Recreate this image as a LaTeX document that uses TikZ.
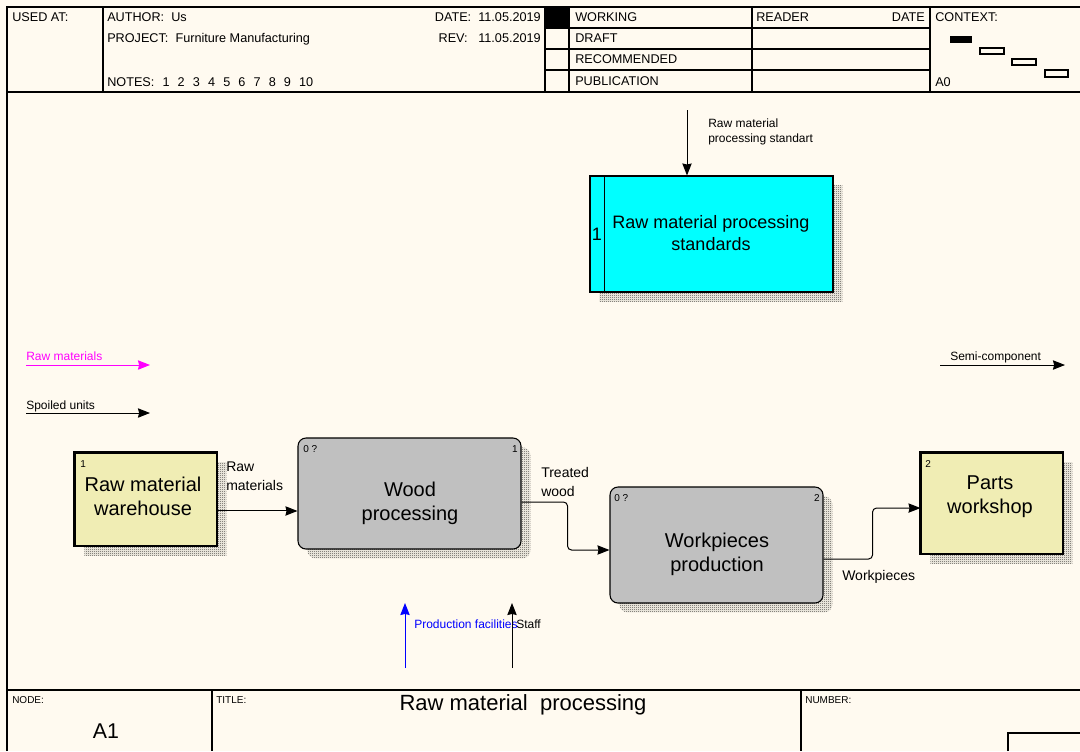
\documentclass[tikz,border=0pt]{standalone}
\usepackage{fontspec}
\setmainfont{Liberation Sans}
\usetikzlibrary{arrows.meta,shadows,calc,patterns}
\definecolor{bgc}{RGB}{255,250,240}
\definecolor{cyanbox}{RGB}{0,255,255}
\definecolor{khaki}{RGB}{240,237,180}
\definecolor{graybox}{RGB}{192,192,192}
\definecolor{shadowc}{RGB}{70,68,64}
\definecolor{magline}{RGB}{255,0,255}
\definecolor{blueline}{RGB}{0,0,255}
\pgfdeclarepatternformonly{checker}{\pgfqpoint{0pt}{0pt}}{\pgfqpoint{1.5pt}{1.5pt}}{\pgfqpoint{1.5pt}{1.5pt}}{%
  \pgfpathrectangle{\pgfqpoint{0pt}{0pt}}{\pgfqpoint{0.75pt}{0.75pt}}%
  \pgfpathrectangle{\pgfqpoint{0.75pt}{0.75pt}}{\pgfqpoint{0.75pt}{0.75pt}}%
  \pgfusepath{fill}}
\newcommand{\fsz}[2]{\fontsize{#1}{#2}\selectfont}
\newcommand{\gap}{\hspace{6.1pt}}
\begin{document}
\begin{tikzpicture}[x=0.75pt,y=-0.75pt,
  frame/.style={line width=0.9pt,draw=black},
  hdr/.style={font=\fsz{9.5}{11},inner sep=0pt,anchor=base west},
  lbl/.style={font=\fsz{9}{11.25},inner sep=0pt},
  mlbl/.style={font=\fsz{10.5}{14},inner sep=0pt},
  tiny/.style={font=\fsz{7.5}{9},inner sep=0pt},
  boxtxt/.style={font=\fsz{15}{18},align=center,inner sep=0pt},
  shd/.style={drop shadow={shadow xshift=7pt,shadow yshift=-7pt,pattern=checker,pattern color=shadowc,opacity=1,draw=none}},
  ext/.style={draw=black,line width=0.8pt,fill=khaki,inner sep=0pt,shd},
  act/.style={draw=black,line width=0.8pt,fill=graybox,rounded corners=6pt,inner sep=0pt,shd},
  arr/.style={-{Stealth[length=9pt,width=7pt,inset=0.8pt]},line width=0.75pt}
]
\useasboundingbox (0,0) rectangle (1080,751);
\fill[bgc] (0,0) rectangle (1080,751);

% ---------- header frame ----------
\draw[frame] (7,751) -- (7,7) -- (1080,7);
\draw[frame] (7,92) -- (1080,92);
\draw[frame] (103,7) -- (103,92);
\draw[frame] (545,7) -- (545,92);
\draw[frame] (569,7) -- (569,92);
\draw[frame] (752,7) -- (752,92);
\draw[frame] (930,7) -- (930,92);
\draw[frame] (545,28) -- (930,28);
\draw[frame] (545,49) -- (930,49);
\draw[frame] (545,70) -- (930,70);
\fill[black] (545,7) rectangle (569,28);
% context thumbnails
\fill[black] (950,36) rectangle (972,43);
\draw[line width=0.8pt] (980,48) rectangle (1004,54);
\draw[line width=0.8pt] (1012,59) rectangle (1036,65);
\draw[line width=0.8pt] (1045,70) rectangle (1068,77);

\node[hdr] (usedat) at (12,21) {USED AT:};
\node[hdr] (author) at (107,21) {AUTHOR:\ \ Us};
\node[hdr] (project) at (107,42) {PROJECT:\ \ Furniture Manufacturing};
\node[hdr] (notes) at (107,86) {NOTES:\gap 1\gap 2\gap 3\gap 4\gap 5\gap 6\gap 7\gap 8\gap 9\gap 10};
\node[hdr,anchor=base east] (date) at (541,21) {DATE:\ \ 11.05.2019};
\node[hdr,anchor=base east] (rev) at (541,42) {REV:\ \ \ 11.05.2019};
\node[hdr] (working) at (575,21) {WORKING};
\node[hdr] (draft) at (575,42) {DRAFT};
\node[hdr] (recom) at (575,63.5) {RECOMMENDED};
\node[hdr] (publ) at (575,85) {PUBLICATION};
\node[hdr] (reader) at (756,21) {READER};
\node[hdr,anchor=base east] (rdate) at (925,21) {DATE};
\node[hdr] (context) at (935,21) {CONTEXT:};
\node[hdr] (azero) at (935,86) {A0};

% ---------- boxes ----------
\node[draw=black,line width=0.8pt,fill=cyanbox,inner sep=0pt,shd,
      minimum width=182.25pt,minimum height=87pt] (std) at (711.5,234) {};
\draw[line width=0.8pt] ([xshift=11.25pt]std.north west) -- ([xshift=11.25pt]std.south west);
\node[font=\fsz{13.5}{16.5},inner sep=0pt] (stdnum) at ([xshift=5.6pt]std.west) {1};
\node[font=\fsz{13.5}{16.5},align=center,inner sep=0pt] (stdtxt) at (711,233) {Raw material processing\\standards};

\node[ext,minimum width=106.5pt,minimum height=69.75pt] (wh) at (146,499.5) {};
\draw[line width=2.4pt] (wh.south west) -- (wh.north west) -- (wh.north east);
\node[boxtxt] (whtxt) at (143,496.5) {Raw material\\warehouse};
\node[tiny,anchor=base west] (whnum) at (80,467) {1};

\node[act,minimum width=167.25pt,minimum height=83.25pt] (wood) at (409.5,493.5) {};
\node[boxtxt] (woodtxt) at (410,503.5) {Wood\\processing};
\node[tiny,anchor=base west] (woodq) at (303,452) {0 ?};
\node[tiny,anchor=base east] (woodnum) at (518,452) {1};

\node[act,minimum width=159.75pt,minimum height=87pt] (wp) at (716.5,545) {};
\node[boxtxt] (wptxt) at (717,554.5) {Workpieces\\production};
\node[tiny,anchor=base west] (wpq) at (614,501) {0 ?};
\node[tiny,anchor=base east] (wpnum) at (820,501) {2};

\node[ext,minimum width=106.5pt,minimum height=75.75pt] (pw) at (992,503.5) {};
\draw[line width=2.4pt] (pw.south west) -- (pw.north west) -- (pw.north east);
\node[boxtxt] (pwtxt) at (990,496.5) {Parts\\workshop};
\node[tiny,anchor=base west] (pwnum) at (925,467) {2};

% ---------- arrows ----------
\coordinate (ctop) at (687,110);
\draw[arr] (ctop) -- (ctop |- std.north);
\node[lbl,align=left,anchor=west] (ctoplbl) at (708,131.5) {Raw material\\processing standart};

\coordinate (rmA) at (26,365);
\coordinate (rmB) at (150,365);
\draw[arr,magline] (rmA) -- (rmB);
\node[lbl,anchor=base west,text=magline] (rmlbl) at (26,360) {Raw materials};

\coordinate (suA) at (26,413);
\coordinate (suB) at (150,413);
\draw[arr] (suA) -- (suB);
\node[lbl,anchor=base west] (sulbl) at (26,409) {Spoiled units};

\coordinate (scA) at (940,365);
\coordinate (scB) at (1065,365);
\draw[arr] (scA) -- (scB);
\node[lbl,anchor=base west] (sclbl) at (950,360) {Semi-component};

\draw[arr] ([yshift=-8.6pt]wh.east) -- ([yshift=-8.6pt]wh.east -| wood.west);
\node[mlbl,align=left,anchor=west] (rawlbl) at (226,476.5) {Raw\\materials};

\draw[arr,rounded corners=3pt] ([yshift=-6.4pt]wood.east) -- ++(46,0) |- ([yshift=-3.75pt]wp.west);
\node[mlbl,align=left,anchor=west] (twlbl) at (541,482) {Treated\\wood};

\draw[arr,rounded corners=3pt] ([yshift=-10.5pt]wp.east) -- ++(49,0) |- ([yshift=-3.4pt]pw.west);
\node[mlbl,anchor=base west] (wplbl) at (842,580) {Workpieces};

\coordinate (pfA) at (405,668);
\coordinate (pfB) at (405,603);
\draw[arr,blueline] (pfA) -- (pfB);
\node[lbl,anchor=base west,text=blueline] (pflbl) at (414,628) {Production facilities};

\coordinate (stA) at (512,668);
\coordinate (stB) at (512,603);
\draw[arr] (stA) -- (stB);
\node[lbl,anchor=base west] (stlbl) at (516,628) {Staff};

% ---------- footer ----------
\draw[frame] (7,690) -- (1080,690);
\draw[frame] (212,690) -- (212,751);
\draw[frame] (801,690) -- (801,751);
\draw[frame] (1008,751) -- (1008,733) -- (1080,733);
\node[tiny,anchor=base west] (nodelbl) at (12,703) {NODE:};
\node[tiny,anchor=base west] (titlelbl) at (216,703) {TITLE:};
\node[tiny,anchor=base west] (numlbl) at (805,703) {NUMBER:};
\node[font=\fsz{16}{19},inner sep=0pt] (aone) at (106,731) {A1};
\node[font=\fsz{16.5}{19},inner sep=0pt] (title) at (523,705) {Raw material\ \ processing};
\end{tikzpicture}
\end{document}
